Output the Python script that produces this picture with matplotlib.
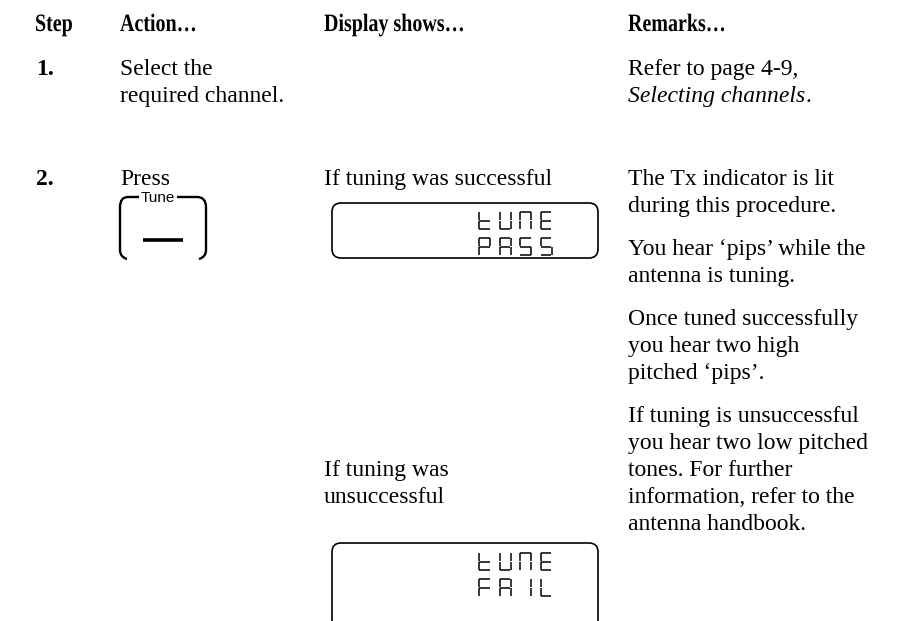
import matplotlib
matplotlib.use("Agg")
import matplotlib.pyplot as plt
from matplotlib.font_manager import FontProperties
from matplotlib.textpath import TextPath
from matplotlib.patches import PathPatch, FancyBboxPatch
from matplotlib.transforms import Affine2D
from matplotlib.path import Path

# table text
headers = ["Step", "Action…", "Display shows…", "Remarks…"]
steps = ["1.", "2."]
action_1 = ["Select the", "required channel."]
action_2 = ["Press"]
button_label = "Tune"
display_ok = ["If tuning was successful"]
display_fail = ["If tuning was", "unsuccessful"]
lcd_ok = ["tUnE", "PASS"]
lcd_fail = ["tUnE", "FAIL"]
remark_1 = ["Refer to page 4-9,"]
remark_1_italic = "Selecting channels"
remark_2 = [
    ["The Tx indicator is lit", "during this procedure."],
    ["You hear \u2018pips\u2019 while the", "antenna is tuning."],
    ["Once tuned successfully", "you hear two high", "pitched \u2018pips\u2019."],
    ["If tuning is unsuccessful", "you hear two low pitched", "tones. For further",
     "information, refer to the", "antenna handbook."],
]

# 7 segment layout: a top, b top-right, c bottom-right, d bottom, e bottom-left, f top-left, g middle
SEG = {
    "t": "defg", "U": "bcdef", "n": "abcef", "E": "adefg", "P": "abefg",
    "A": "abcefg", "S": "acdfg", "F": "aefg", "I": "bc", "L": "def",
}

W, H = 908, 621
fig = plt.figure(figsize=(W / 100, H / 100), dpi=100)
ax = fig.add_axes([0, 0, 1, 1])
ax.set_xlim(0, W)
ax.set_ylim(H, 0)
ax.axis("off")

serif = "Liberation Serif"
fs = 17
pitch = 27


def lines(x, y0, txt, **kw):
    for i, s in enumerate(txt):
        ax.text(x, y0 + i * pitch, s, family=serif, fontsize=fs, va="baseline", **kw)


def condensed(x, y, s, em=25, sx=0.8):
    # bold condensed serif for the column heads
    fp = FontProperties(family=serif, weight="bold")
    tp = TextPath((0, 0), s, size=em, prop=fp)
    tr = Affine2D().scale(sx, -1).translate(x, y)
    ax.add_patch(PathPatch(tr.transform_path(tp), fc="black", ec="none"))


def seg7(x, y, ch, w=11, h=17, gap=0.4, lw=1.1):
    m = h / 2
    pts = {
        "a": [(x + gap, y), (x + w - gap, y)],
        "b": [(x + w, y + gap), (x + w, y + m - gap)],
        "c": [(x + w, y + m + gap), (x + w, y + h - gap)],
        "d": [(x + gap, y + h), (x + w - gap, y + h)],
        "e": [(x, y + m + gap), (x, y + h - gap)],
        "f": [(x, y + gap), (x, y + m - gap)],
        "g": [(x + gap, y + m), (x + w - gap, y + m)],
    }
    for k in SEG[ch]:
        (x1, y1), (x2, y2) = pts[k]
        ax.plot([x1, x2], [y1, y2], color="black", lw=lw, solid_capstyle="butt")


def lcd(x0, y0, x1, y1, rows, ty):
    box = FancyBboxPatch((x0, y0), x1 - x0, y1 - y0,
                         boxstyle="round,pad=0,rounding_size=9",
                         fc="none", ec="black", lw=1.2)
    ax.add_patch(box)
    for r, word in enumerate(rows):
        for i, ch in enumerate(word):
            seg7(479 + i * 20.5, ty + r * 26, ch)


# header row
for s, x in zip(headers, [35, 120, 324, 628]):
    condensed(x, 31, s)

# step numbers
for s, y in zip(steps, [75, 185]):
    ax.text(36, y, s, family=serif, fontsize=fs, weight="bold", va="baseline")

# step 1
lines(120, 75, action_1)
lines(628, 75, remark_1)
t = ax.text(628, 75 + pitch, remark_1_italic, family=serif, fontsize=fs,
            style="italic", va="baseline")
fig.canvas.draw()
bb = t.get_window_extent()
ax.text(628 + bb.width, 75 + pitch, ".", family=serif, fontsize=fs, va="baseline")

# step 2
lines(120, 185, action_2)
lines(324, 185, display_ok)
lines(324, 476, display_fail)
for block, y in zip(remark_2, [185, 255, 325, 422]):
    lines(628, y, block)

# Tune key
top = 197
ax.text(158, top + 4.5, button_label, family="Liberation Sans", fontsize=11,
        ha="center", va="baseline")
left = Path([(139, top), (128, top), (120, top), (120, top + 10),
             (120, 250), (120, 257), (127, 259)],
            [Path.MOVETO, Path.LINETO, Path.CURVE3, Path.CURVE3,
             Path.LINETO, Path.CURVE3, Path.CURVE3])
right = Path([(177, top), (197, top), (206, top), (206, top + 10),
              (206, 250), (206, 257), (199, 259)],
             [Path.MOVETO, Path.LINETO, Path.CURVE3, Path.CURVE3,
              Path.LINETO, Path.CURVE3, Path.CURVE3])
for p in (left, right):
    ax.add_patch(PathPatch(p, fc="none", ec="black", lw=1.7))
ax.plot([143, 183], [240, 240], color="black", lw=2.6, solid_capstyle="butt")

# LCD panels
lcd(332, 203, 598, 258, lcd_ok, 212)
lcd(332, 543, 598, 630, lcd_fail, 553)

fig.savefig("out.png", dpi=100)
